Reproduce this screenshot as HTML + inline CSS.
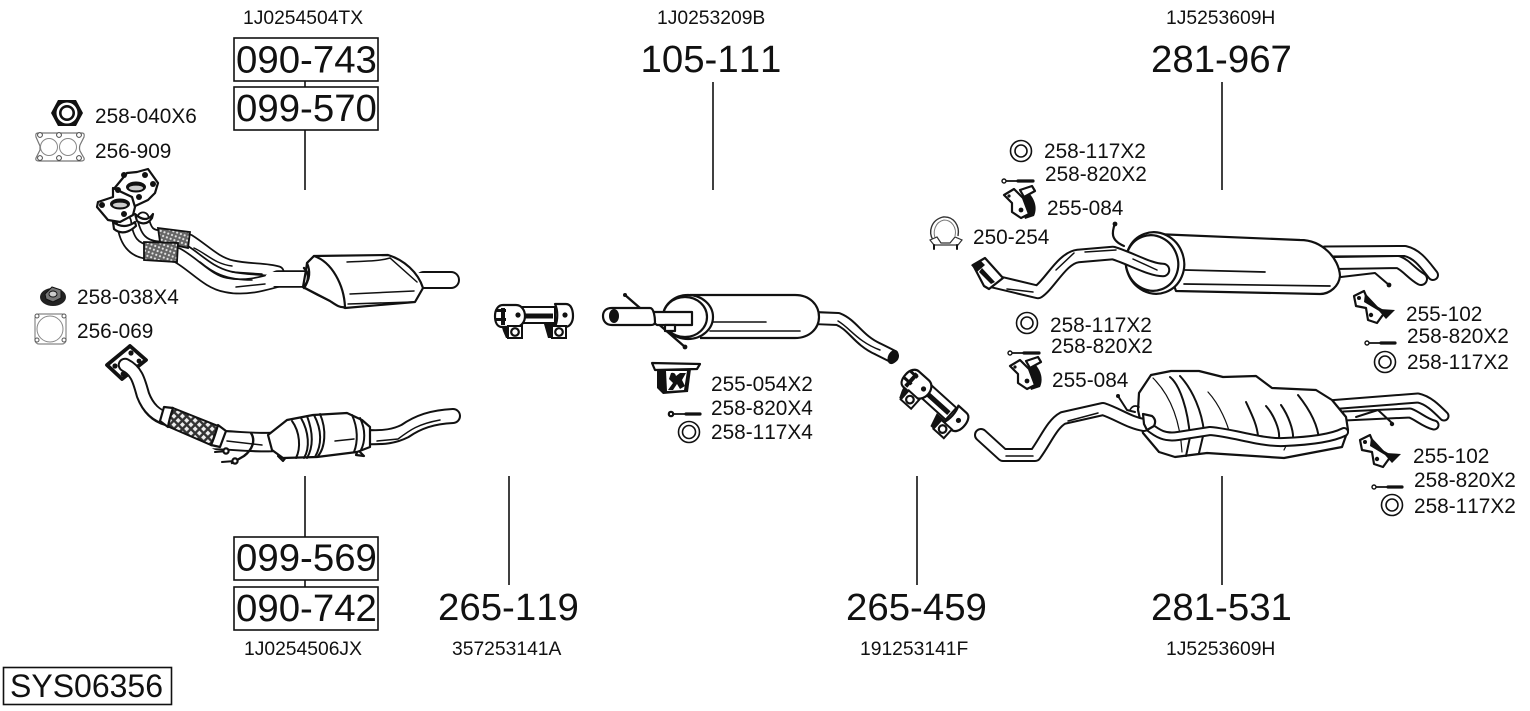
<!DOCTYPE html>
<html><head><meta charset="utf-8"><style>
html,body{margin:0;padding:0;background:#fff;width:1530px;height:711px;overflow:hidden}
svg{display:block}
text{font-family:"Liberation Sans",sans-serif;fill:#111;font-kerning:none}
.s{font-size:20.8px}.p{font-size:19.3px}.b{font-size:38.4px}
.o{fill:none;stroke:#111;stroke-linejoin:round;stroke-linecap:round}
.w{fill:none;stroke:#fff;stroke-linejoin:round;stroke-linecap:round}
.f{fill:#fff;stroke:#111;stroke-width:2.2;stroke-linejoin:round}
.k{fill:#111;stroke:none}
.l{fill:none;stroke:#111;stroke-width:1.5;stroke-linecap:round}
.c{stroke:#111;stroke-width:1.6;fill:none}
</style></head><body>
<svg width="1530" height="711" viewBox="0 0 1530 711" xmlns="http://www.w3.org/2000/svg">
<defs>
<pattern id="m" width="4" height="4" patternUnits="userSpaceOnUse" patternTransform="rotate(20)"><rect width="4" height="4" fill="#666"/><circle cx="2" cy="2" r="1.1" fill="#e4e4e4"/></pattern>
<pattern id="m2" width="6" height="6" patternUnits="userSpaceOnUse" patternTransform="rotate(45)"><rect width="6" height="6" fill="#333"/><rect x="1.5" y="1.5" width="3.6" height="3.6" fill="#eee"/></pattern>
<g id="clamp">
<path class="k" d="M501 324H522V338H506L503 331ZM544 324H566V338H548Z"/>
<rect x="522" y="307" width="33" height="16" fill="#fff" stroke="#111" stroke-width="2"/>
<rect x="524" y="313.5" width="29" height="5" fill="#111"/>
<path class="f" stroke-width="3.2" d="M503 305H516C522 305 525 311 525 316C525 322 521 327 516 327H502C497 327 495 322 495 316C495 310 498 305 503 305Z"/>
<path class="f" stroke-width="3.2" d="M555 304H566C571 304 573 310 573 316C573 322 570 327 565 327H555C558 320 558 310 555 304Z"/>
<circle cx="518" cy="315" r="2.6" class="k"/><circle cx="565" cy="315" r="2.6" class="k"/>
<path class="k" d="M496 309H506V312H496ZM496 318H506V321H496ZM501 308H505V325H501Z"/>
<rect x="508" y="326" width="14" height="12" fill="#fff" stroke="#111" stroke-width="2"/><circle cx="515" cy="332" r="3.8" class="f" stroke-width="1.8"/>
<rect x="552" y="326" width="14" height="12" fill="#fff" stroke="#111" stroke-width="2"/><circle cx="559" cy="332" r="3.8" class="f" stroke-width="1.8"/>
</g>
<g id="h84">
<path class="k" d="M1018 198L1028 192C1034 198 1038 207 1034 216L1025 219Z"/>
<path class="f" stroke-width="1.6" d="M1004 195L1014 189L1023 198L1029 214L1021 218L1012 212L1012 203Z"/>
<circle cx="1021" cy="210" r="2.4" class="k"/><circle cx="1009" cy="196" r="1.6" class="k"/>
<path class="f" stroke-width="1.4" d="M1020 190L1032 186L1035 191L1024 197Z"/>
</g>
<g id="h102">
<path class="f" stroke-width="1.8" d="M1354 296L1364 291L1369 303L1385 312L1377 323L1368 320L1366 308L1356 306Z"/>
<path class="k" d="M1365 293L1380 309L1395 310L1386 319L1379 311L1364 302Z"/>
<circle cx="1359" cy="298" r="2" class="k"/><circle cx="1371" cy="315" r="2.2" class="k"/>
</g>
</defs>

<!-- leader lines and boxes -->
<g class="c">
<path d="M305 81V87M305 130V190M713 82V190M1222 82V190M305 476V537M305 580V587M509 476V585M917 476V585M1222 476V585"/>
<rect x="234" y="38" width="144" height="43"/><rect x="234" y="87" width="144" height="43"/>
<rect x="234" y="537" width="144" height="43"/><rect x="234" y="587" width="144" height="43"/>
<rect x="3.5" y="667.5" width="168" height="37"/>
</g>

<!-- upper downpipe -->
<path class="o" stroke-width="13" d="M143 218C146 232 150 236 162 236L189 240C205 250 215 262 232 266C250 270 265 268 278 272"/>
<path class="w" stroke-width="9.5" d="M143 218C146 232 150 236 162 236L189 240C205 250 215 262 232 266C250 270 265 268 278 272"/>
<path class="o" stroke-width="16" d="M124 222C126 240 133 251 150 252L177 255C195 265 208 282 226 285C245 289 262 284 280 279"/>
<path class="w" stroke-width="12.5" d="M124 222C126 240 133 251 150 252L177 255C195 265 208 282 226 285C245 289 262 284 280 279"/>
<path class="o" stroke-width="17.5" d="M278 279L308 279"/>
<path class="w" stroke-width="14" d="M272 279L308 279"/>
<path class="l" d="M200 262C212 272 225 280 252 280M236 287L265 284M232 272L262 274M194 248C207 254 215 264 232 266"/>
<path d="M158 228L190 232L188 248L160 242Z" fill="url(#m)" stroke="#111" stroke-width="1.8"/>
<path d="M144 242L178 243L177 262L144 260Z" fill="url(#m)" stroke="#111" stroke-width="1.8"/>
<path class="f" d="M135 214Q146 224 153 214L152 218Q146 227 137 221ZM113 222Q124 230 135 222L136 226Q124 237 114 229Z"/>
<path class="f" stroke-width="2.6" d="M127 173L137 172L148 169L158 183L155 193L148 200L133 207L118 202L113 190Z"/>
<path class="f" stroke-width="2.6" d="M113 188L132 197L135 207L133 215L120 222L108 220L97 207L98 202L113 197Z"/>
<ellipse cx="136" cy="187" rx="10" ry="5.5" fill="#111"/><ellipse cx="136" cy="188" rx="7" ry="2.4" fill="#ccc"/>
<ellipse cx="120" cy="204" rx="10" ry="5.5" fill="#111"/><ellipse cx="120" cy="205" rx="7" ry="2.4" fill="#ccc"/>
<g class="k"><circle cx="102" cy="205" r="3"/><circle cx="118" cy="190" r="3"/><circle cx="124" cy="175" r="3"/><circle cx="145" cy="175" r="3"/><circle cx="153" cy="184" r="3"/><circle cx="139" cy="197" r="3"/><circle cx="124" cy="214" r="3"/></g>
<!-- upper cat body -->
<path class="o" stroke-width="18" d="M424 280L451 280"/><path class="w" stroke-width="14" d="M418 280L451 280"/>
<path class="f" stroke-width="2.6" d="M307 263L314 256L388 255C404 260 418 272 423 288L415 302L345 308L318 295L303 287L306 270Z"/>
<path class="f" stroke-width="2.4" d="M307 263L314 256C332 262 344 285 345 307C340 308 336 305 330 301L303 287C311 280 310 270 307 263Z"/>
<path class="l" d="M347 262C360 261 376 262 390 258L417 282M350 294L414 291M348 304L412 302"/>
<path class="o" stroke-width="2.4" d="M304 268Q312 276 304 288"/>

<!-- lower downpipe -->
<path d="M107 365L130 346L146 360L122 379Z" fill="#fff" stroke="#111" stroke-width="3.8" stroke-linejoin="round"/>
<g class="k"><circle cx="115" cy="366" r="2.6"/><circle cx="131" cy="353" r="2.6"/><circle cx="139" cy="361" r="2.4"/><circle cx="123" cy="374" r="2.4"/></g>
<path class="o" stroke-width="14.5" d="M125 365C137 371 139 381 143 395C148 408 156 416 167 419"/>
<path class="w" stroke-width="10.5" d="M125 365C137 371 139 381 143 395C148 408 156 416 169 419"/>
<path class="o" stroke-width="20.5" d="M218 440C232 440 250 443 272 442"/><path class="w" stroke-width="16.5" d="M212 440C232 440 250 443 278 442"/>
<path d="M173 408L218 426L211 445L167 426Z" fill="url(#m2)" stroke="#111" stroke-width="2"/>
<path class="f" d="M164 407L173 408C171 414 169 420 168 427L160 421ZM218 425L226 431L220 447L211 445C214 439 216 432 218 425Z"/>
<path class="l" d="M227 441L262 445"/>
<path class="o" stroke-width="2.4" d="M251 433C256 441 252 450 244 456L232 463"/>
<path class="o" stroke-width="2" d="M215 452L228 451M222 462L235 461"/><circle cx="226" cy="451" r="2.6" class="f" stroke-width="1.6"/><circle cx="235" cy="461" r="2.6" class="f" stroke-width="1.6"/>
<path class="o" stroke-width="16" d="M367 437C385 438 395 436 405 431C418 422 432 417 453 416"/>
<path class="w" stroke-width="12" d="M360 437C385 438 395 436 405 431C418 422 432 417 453 416"/>
<path class="l" d="M377 441L398 439C410 430 418 424 440 420"/>
<path class="f" stroke-width="1.6" d="M278 456L283 461L287 456ZM358 450L364 456L356 455Z"/>
<path class="f" stroke-width="2.5" d="M268 435L287 420L313 415L347 413L362 420L370 427L370 447L357 452L317 457L283 458L272 450Z"/>
<path class="o" stroke-width="2" d="M292 421C300 432 301 448 296 458M301 418C309 432 310 448 304 458M307 416C313 432 314 446 307 458M314 415C322 430 322 445 315 457M320 414C327 430 325 448 318 456M352 415C358 428 358 442 354 452M360 418C366 430 365 442 361 450"/>
<path class="l" d="M335 441L354 439"/>

<!-- clamps -->
<use href="#clamp"/>
<use href="#clamp" transform="translate(932 402) rotate(42) translate(-533 -319)"/>

<!-- front muffler 105-111 -->
<path class="o" stroke-width="2.4" d="M625 295L685 347"/>
<circle cx="625" cy="295" r="2" class="k"/><circle cx="685" cy="347" r="2.4" class="k"/>
<path class="o" stroke-width="14" d="M815 318L838 319C853 325 858 340 878 349L892 356"/>
<path class="w" stroke-width="10" d="M810 318L838 319C853 325 858 340 878 349L892 356"/>
<path class="l" d="M838 321C850 328 858 342 880 350"/>
<path class="f" stroke-width="2.6" d="M690 295H795C810 295 819 305 819 317C819 328 810 338 795 338H700"/>
<path class="o" stroke-width="1.6" d="M710 322L766 322M710 331L800 331"/>
<ellipse cx="688" cy="317" rx="25" ry="22" class="f" stroke-width="2.4"/>
<ellipse cx="685" cy="317" rx="22" ry="20" class="f" stroke-width="2"/>
<path class="f" d="M650 312H692V325H657L650 320Z"/>
<path class="f" stroke-width="1.6" d="M665 325H675V331H665Z"/>
<path class="f" stroke-width="2.4" d="M612 308H650C654 308 655 318 655 322C655 325 652 325 650 325H612C606 325 603 321 603 316C603 311 606 308 612 308Z"/>
<ellipse cx="614" cy="316" rx="5" ry="7" class="k"/>
<ellipse cx="893" cy="357" rx="5" ry="7.5" transform="rotate(25 893 357)" fill="#111"/>

<!-- hanger 255-054 -->
<path class="f" stroke-width="1.8" d="M652 363L700 364L697 369L655 370Z"/>
<path class="k" d="M657 369L691 369L688 392L663 394L657 388Z"/>
<path d="M666 371L687 371L684 390L667 391Z" fill="#fff"/>
<path class="k" d="M671 373Q675 372 676 376L680 373L686 373L682 380L685 386L680 389L677 384L673 390L668 390L673 383L669 379Z"/>
<!-- hardware -->
<path class="o" stroke-width="1.8" d="M670 414H688"/><path class="o" stroke-width="3.2" d="M686 414H700"/><circle cx="671" cy="414" r="2.2" class="f" stroke-width="1.4"/>
<g fill="#fff" stroke="#111" stroke-width="1.6"><ellipse cx="689" cy="432" rx="10.5" ry="10.5"/><circle cx="689" cy="432" r="6.5"/></g>

<!-- nuts and gaskets -->
<path d="M51 113L58 100H76L83 113L76 126H58Z" fill="#111"/><circle cx="67" cy="113" r="10.5" fill="#fff"/><circle cx="67" cy="113" r="8" fill="#111"/><circle cx="67" cy="113" r="5.4" fill="#fff"/>
<path d="M38 133H82Q85 133 84 137L80 145Q79 148 80 151L84 158Q85 161 81 161H39Q35 161 36 158L40 150V146L36 137Q35 133 38 133Z" fill="#fff" stroke="#777" stroke-width="1.2"/>
<circle cx="49" cy="147" r="8.5" fill="#fff" stroke="#888"/><circle cx="68" cy="147" r="8.5" fill="#fff" stroke="#888"/>
<g fill="#fff" stroke="#444"><circle cx="40" cy="135" r="2.4"/><circle cx="59" cy="135" r="2.4"/><circle cx="79" cy="135" r="2.4"/><circle cx="40" cy="158" r="2.4"/><circle cx="59" cy="158" r="2.4"/><circle cx="79" cy="158" r="2.4"/></g>
<ellipse cx="53" cy="297" rx="13" ry="9" fill="#222"/><path d="M45 294L52 287L61 290L61 298L53 302L46 299Z" fill="#777" stroke="#111"/><ellipse cx="53" cy="294" rx="4" ry="3" fill="#ccc" stroke="#111"/>
<rect x="35" y="314" width="31" height="30" rx="4" fill="#fff" stroke="#888" stroke-width="1.2"/><circle cx="50" cy="329" r="13" fill="#fff" stroke="#888"/>
<g fill="#fff" stroke="#555"><circle cx="37" cy="316" r="2"/><circle cx="64" cy="316" r="2"/><circle cx="37" cy="340" r="2"/><circle cx="64" cy="340" r="2"/></g>

<!-- rear muffler (upper) -->
<path class="o" stroke-width="12" d="M1325 251.5L1405 251C1418 254 1425 265 1433 275"/>
<path class="w" stroke-width="8" d="M1325 251.5L1405 251C1418 254 1425 265 1433 275"/>
<path class="o" stroke-width="14" d="M1335 263L1398 262C1406 265 1412 274 1421 279"/>
<path class="w" stroke-width="10" d="M1335 263L1398 262C1406 265 1412 274 1421 279"/>
<path class="o" stroke-width="2" d="M1341 277L1375 273L1389 285"/><circle cx="1389" cy="285" r="2.4" class="k"/>
<path class="o" stroke-width="2.2" d="M1115 223C1112 232 1110 240 1124 246"/><circle cx="1115" cy="224" r="2.4" class="k"/>
<path class="f" stroke-width="2.6" d="M1155 234L1300 240C1322 240 1339 258 1340 276C1339 286 1330 294 1320 294L1176 291Z"/>
<path class="o" stroke-width="1.7" d="M1185 270L1265 272M1184 284L1330 286"/>
<ellipse cx="1155" cy="263" rx="29" ry="31" class="f" stroke-width="2.5" transform="rotate(-20 1155 263)"/>
<ellipse cx="1152" cy="263" rx="26" ry="28" class="f" stroke-width="1.6" transform="rotate(-20 1152 263)"/>
<path class="o" stroke-width="14.5" d="M992 281L1038 292C1050 284 1062 258 1078 256L1113 253C1130 258 1150 270 1163 270"/>
<path class="w" stroke-width="10.5" d="M992 281L1038 292C1050 284 1062 258 1078 256L1113 253C1130 258 1150 270 1163 270"/>
<path class="l" d="M1007 289L1033 292M1056 270L1074 253M1085 252L1116 250M1133 259L1157 270"/>
<path class="f" stroke-width="2.4" d="M973 265L985 258L1003 278L989 289L984 286Z"/>
<path class="k" d="M971 265L980 260L985 265L977 272ZM982 268L995 282L991 284L979 272Z"/>

<!-- rear muffler (lower) -->
<path class="o" stroke-width="11" d="M1328 405L1418 398C1428 400 1436 408 1444 416"/>
<path class="w" stroke-width="7" d="M1328 405L1418 398C1428 400 1436 408 1444 416"/>
<path class="o" stroke-width="11" d="M1344 416L1410 413C1418 416 1425 423 1434 425"/>
<path class="w" stroke-width="7" d="M1344 416L1410 413C1418 416 1425 423 1434 425"/>
<path class="f" stroke-width="2.3" d="M1139 393L1151 375L1171 371L1199 371L1223 377L1256 376L1272 388L1316 390L1332 400L1346 417L1348 430L1342 447L1284 458L1207 453L1175 457L1159 452L1143 433L1138 410Z"/>
<path class="o" stroke-width="2" d="M1170 377C1180 385 1188 410 1190 437L1186 456M1180 376C1193 390 1202 412 1204 432L1199 453M1246 402C1252 415 1257 425 1258 436M1266 406C1274 415 1280 430 1279 438M1281 405C1288 415 1294 430 1293 440M1298 395C1310 410 1318 425 1319 440"/>
<path class="o" stroke-width="1.2" d="M1153 378C1170 395 1180 420 1182 452M1208 392C1220 405 1228 425 1230 435M1284 450L1288 442"/>
<path class="o" stroke-width="10" d="M1148 426C1158 434 1165 438 1178 436L1210 431C1235 433 1260 443 1284 442C1310 441 1332 438 1344 432"/>
<path class="w" stroke-width="6" d="M1148 426C1158 434 1165 438 1178 436L1210 431C1235 433 1260 443 1284 442C1310 441 1332 438 1344 432"/>
<path class="o" stroke-width="2" d="M1356 417L1378 410L1392 423"/><circle cx="1392" cy="424" r="2.2" class="k"/>
<path class="o" stroke-width="2" d="M1118 396L1127 410L1135 412"/><circle cx="1118" cy="396" r="2" class="k"/>
<path class="o" stroke-width="1.6" d="M1130 410Q1133 404 1139 407"/>
<path class="o" stroke-width="14" d="M981 435L1003 455L1035 455C1046 440 1052 424 1063 418L1103 409C1118 414 1130 423 1144 425"/>
<path class="w" stroke-width="10" d="M981 435L1003 455L1035 455C1046 440 1052 424 1063 418L1103 409C1118 414 1130 423 1144 425"/>
<path class="l" d="M1006 456L1033 456M1068 421L1098 413"/>
<path class="f" stroke-width="1.8" d="M1143 414L1152 416Q1157 420 1154 426L1147 430L1144 424Z"/>

<!-- hangers -->
<use href="#h84"/>
<use href="#h84" transform="translate(6 171)"/>
<use href="#h102"/>
<use href="#h102" transform="translate(6 144)"/>
<!-- bolts -->
<path class="o" stroke-width="1.8" d="M1003 181H1021M1009 353H1027M1366 343H1384M1373 487H1391"/>
<path class="o" stroke-width="3.2" d="M1018 181H1033M1024 353H1039M1381 343H1395M1388 487H1402"/>
<g fill="#fff" stroke="#111" stroke-width="1.4"><circle cx="1004" cy="181" r="2"/><circle cx="1010" cy="353" r="2"/><circle cx="1367" cy="343" r="2"/><circle cx="1374" cy="487" r="2"/></g>
<!-- washers -->
<g fill="#fff" stroke="#111" stroke-width="1.6">
<circle cx="1021" cy="151" r="10.5"/><circle cx="1021" cy="151" r="6"/>
<circle cx="1027" cy="323" r="10.5"/><circle cx="1027" cy="323" r="6"/>
<circle cx="1385" cy="362" r="10.5"/><circle cx="1385" cy="362" r="6"/>
<circle cx="1392" cy="505" r="10.5"/><circle cx="1392" cy="505" r="6"/>
</g>
<!-- clamp 250-254 -->
<path d="M933 240C928 232 931 220 943 217C954 216 960 226 958 236" fill="#fff" stroke="#333" stroke-width="1.4"/>
<path d="M936 240C932 232 935 222 944 220C952 220 957 228 955 236" fill="none" stroke="#777" stroke-width="1"/>
<path d="M930 240L937 237L941 243H950L955 237L962 240L958 245H934Z" fill="#fff" stroke="#333" stroke-width="1.2"/>
<path class="o" stroke-width="2" d="M934 245V249M957 245V249"/>

<!-- labels -->
<text class="p" x="243" y="24">1J0254504TX</text>
<text class="p" x="657" y="24">1J0253209B</text>
<text class="p" x="1166" y="24">1J5253609H</text>
<text class="b" x="236" y="72.5">090-743</text>
<text class="b" x="236" y="121">099-570</text>
<text class="b" x="640.5" y="72">105-111</text>
<text class="b" x="1151" y="72">281-967</text>
<text class="b" x="236" y="570.5">099-569</text>
<text class="b" x="236" y="621">090-742</text>
<text class="b" x="438" y="620">265-119</text>
<text class="b" x="846" y="620">265-459</text>
<text class="b" x="1151" y="620">281-531</text>
<text class="p" x="244" y="655">1J0254506JX</text>
<text class="p" x="452" y="655">357253141A</text>
<text class="p" x="860" y="655">191253141F</text>
<text class="p" x="1166" y="655">1J5253609H</text>
<text x="10" y="697" style="font-size:32px">SYS06356</text>
<text class="s" x="95" y="123">258-040X6</text>
<text class="s" x="95" y="158">256-909</text>
<text class="s" x="77" y="304">258-038X4</text>
<text class="s" x="77" y="338">256-069</text>
<text class="s" x="711" y="391">255-054X2</text>
<text class="s" x="711" y="415">258-820X4</text>
<text class="s" x="711" y="439">258-117X4</text>
<text class="s" x="1044" y="158">258-117X2</text>
<text class="s" x="1045" y="181">258-820X2</text>
<text class="s" x="1047" y="215">255-084</text>
<text class="s" x="973" y="244">250-254</text>
<text class="s" x="1406" y="321">255-102</text>
<text class="s" x="1407" y="343">258-820X2</text>
<text class="s" x="1407" y="369">258-117X2</text>
<text class="s" x="1050" y="332">258-117X2</text>
<text class="s" x="1051" y="353">258-820X2</text>
<text class="s" x="1052" y="387">255-084</text>
<text class="s" x="1413" y="463">255-102</text>
<text class="s" x="1414" y="487">258-820X2</text>
<text class="s" x="1414" y="513">258-117X2</text>
</svg>
</body></html>
